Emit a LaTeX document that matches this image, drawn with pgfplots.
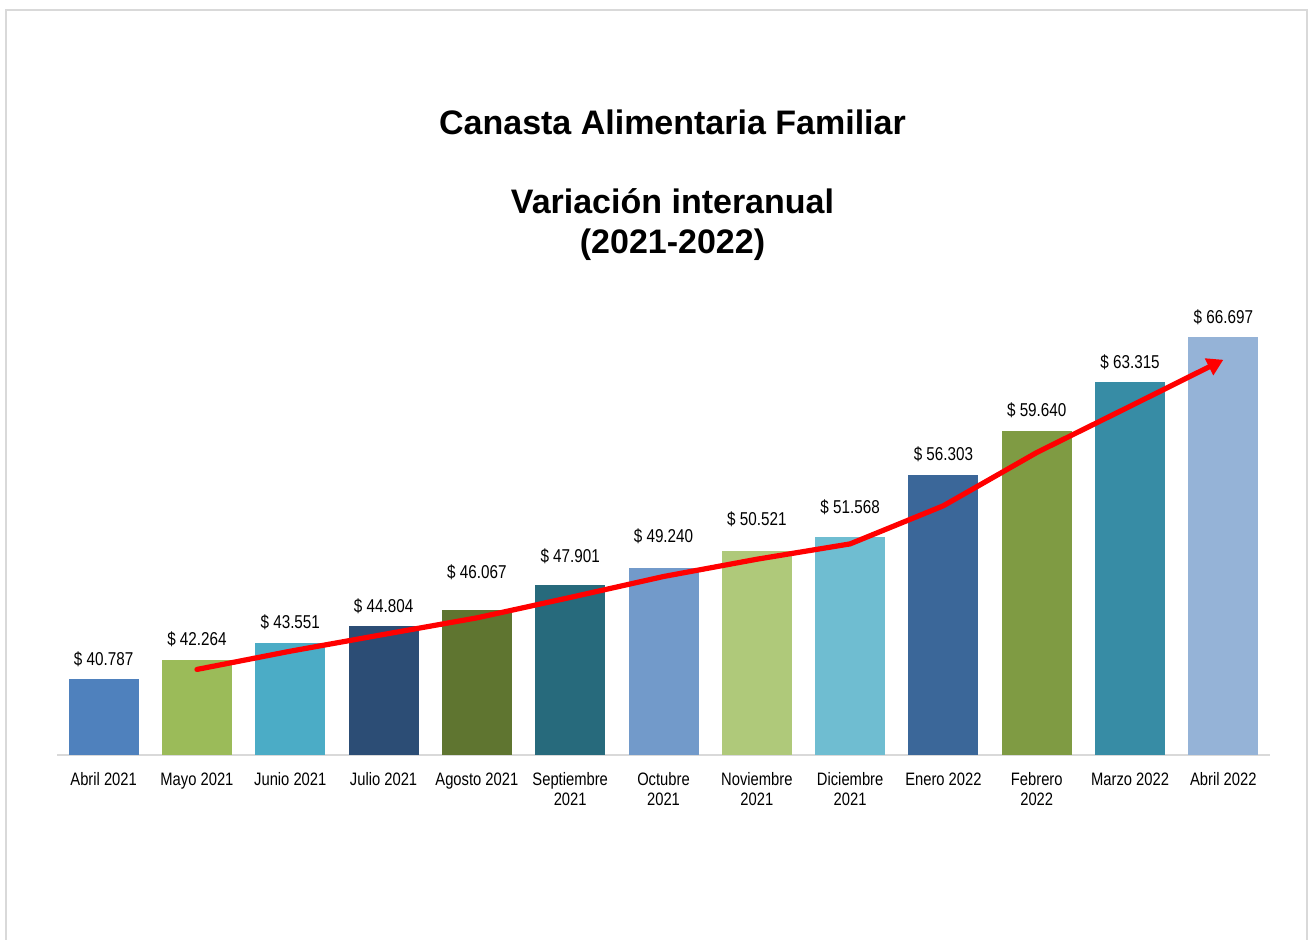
\documentclass[border=0pt]{standalone}
\usepackage{pgfplots}
\pgfplotsset{compat=1.18}
\usepackage{fontspec}
\setmainfont{Liberation Sans}
\newfontfamily\narrowfont[FakeStretch=0.82]{Liberation Sans}
\usetikzlibrary{arrows.meta}
\definecolor{c1}{HTML}{4F81BD}
\definecolor{c2}{HTML}{9BBB59}
\definecolor{c3}{HTML}{4BACC6}
\definecolor{c4}{HTML}{2C4D75}
\definecolor{c5}{HTML}{5F7530}
\definecolor{c6}{HTML}{276A7C}
\definecolor{c7}{HTML}{729ACA}
\definecolor{c8}{HTML}{AFC97A}
\definecolor{c9}{HTML}{6FBDD1}
\definecolor{c10}{HTML}{3B6799}
\definecolor{c11}{HTML}{7F9B43}
\definecolor{c12}{HTML}{378CA5}
\definecolor{c13}{HTML}{95B3D7}
\definecolor{bordergray}{HTML}{D9D9D9}
\begin{document}
\begin{tikzpicture}[x=0.5pt,y=0.5pt]
\useasboundingbox (0,0) rectangle (1309,940);
\draw[bordergray, line width=1pt] (6,0) -- (6,929.5) -- (1307,929.5) -- (1307,0);
\node[anchor=base, font=\bfseries\fontsize{17}{20}\selectfont] at (672.5,805) {Canasta Alimentaria Familiar};
\node[anchor=base, font=\bfseries\fontsize{17}{20}\selectfont] at (672.5,726) {Variación interanual};
\node[anchor=base, font=\bfseries\fontsize{17}{20}\selectfont] at (672.5,686) {(2021-2022)};
\begin{axis}[
  at={(28.5pt,92.25pt)}, anchor=south west,
  scale only axis, width=606.5pt, height=230.8pt,
  xmin=-0.5, xmax=12.5, ymin=35000, ymax=70000,
  axis x line*=bottom, axis y line=none,
  x axis line style={-, draw=bordergray, line width=1pt},
  xtick={0,...,12},
  xticklabels={Abril 2021, Mayo 2021, Junio 2021, Julio 2021, Agosto 2021, Septiembre\\2021, Octubre\\2021, Noviembre\\2021, Diciembre\\2021, Enero 2022, Febrero\\2022, Marzo 2022, Abril 2022},
  xticklabel style={align=center, font=\narrowfont\fontsize{9}{10}\selectfont, yshift=-5pt},
  major tick length=0pt,
  clip=false,
  /pgf/number format/fixed, /pgf/number format/precision=0,
  /pgf/number format/1000 sep={.}, /pgf/number format/assume math mode=true,
  nodes near coords={\$ \pgfmathprintnumber{\pgfplotspointmeta}},
  nodes near coords style={font=\narrowfont\fontsize{9.3}{11}\selectfont, anchor=base, inner sep=0pt},
  every axis plot/.append style={ybar, bar width=0.75, draw=none},
]
\addplot[fill=c1, nodes near coords style={yshift=7pt}] coordinates {(0,40787)};
\addplot[fill=c2, nodes near coords style={yshift=7pt}] coordinates {(1,42264)};
\addplot[fill=c3, nodes near coords style={yshift=7pt}] coordinates {(2,43551)};
\addplot[fill=c4, nodes near coords style={yshift=7pt}] coordinates {(3,44804)};
\addplot[fill=c5, nodes near coords style={yshift=15.5pt}] coordinates {(4,46067)};
\addplot[fill=c6, nodes near coords style={yshift=11.5pt}] coordinates {(5,47901)};
\addplot[fill=c7, nodes near coords style={yshift=12.5pt}] coordinates {(6,49240)};
\addplot[fill=c8, nodes near coords style={yshift=12.5pt}] coordinates {(7,50521)};
\addplot[fill=c9, nodes near coords style={yshift=11.5pt}] coordinates {(8,51568)};
\addplot[fill=c10, nodes near coords style={yshift=7pt}] coordinates {(9,56303)};
\addplot[fill=c11, nodes near coords style={yshift=7pt}] coordinates {(10,59640)};
\addplot[fill=c12, nodes near coords style={yshift=7pt}] coordinates {(11,63315)};
\addplot[fill=c13, nodes near coords style={yshift=7pt}] coordinates {(12,66697)};
% two-period moving average trend
\addplot[sharp plot, draw=red, fill=none, line width=2.6pt, line cap=round, line join=round, nodes near coords={}, -{Triangle[length=8pt,width=9pt]}] coordinates {
 (1,41525.5) (2,42907.5) (3,44177.5) (4,45435.5) (5,46984) (6,48570.5)
 (7,49880.5) (8,51044.5) (9,53935.5) (10,57971.5) (11,61477.5) (12,65006)
};
\end{axis}
\end{tikzpicture}
\end{document}
